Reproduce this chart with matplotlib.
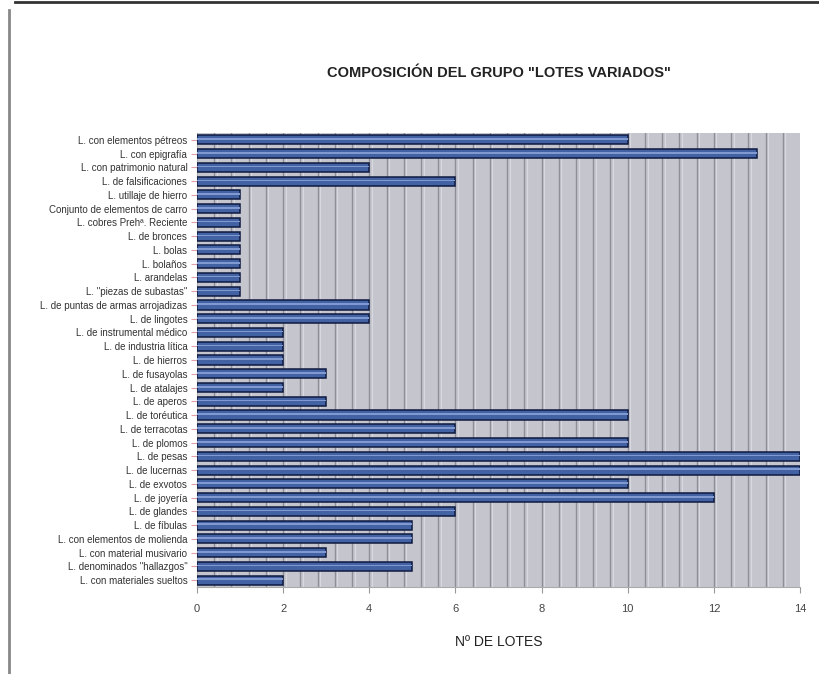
import numpy as np
import matplotlib.pyplot as plt
from matplotlib.lines import Line2D

plt.rcParams['font.family'] = ['Liberation Sans', 'DejaVu Sans']

# lotes del grupo "lotes variados", de arriba abajo
categorias = [
    'L. con elementos pétreos',
    'L. con epigrafía',
    'L. con patrimonio natural',
    'L. de falsificaciones',
    'L. utillaje de hierro',
    'Conjunto de elementos de carro',
    'L. cobres Prehª. Reciente',
    'L. de bronces',
    'L. bolas',
    'L. bolaños',
    'L. arandelas',
    'L. "piezas de subastas"',
    'L. de puntas de armas arrojadizas',
    'L. de lingotes',
    'L. de instrumental médico',
    'L. de industria lítica',
    'L. de hierros',
    'L. de fusayolas',
    'L. de atalajes',
    'L. de aperos',
    'L. de toréutica',
    'L. de terracotas',
    'L. de plomos',
    'L. de pesas',
    'L. de lucernas',
    'L. de exvotos',
    'L. de joyería',
    'L. de glandes',
    'L. de fíbulas',
    'L. con elementos de molienda',
    'L. con material musivario',
    'L. denominados "hallazgos"',
    'L. con materiales sueltos',
]
n_lotes = [10, 13, 4, 6, 1, 1, 1, 1, 1, 1, 1, 1, 4, 4, 2, 2, 2, 3, 2, 3,
           10, 6, 10, 14, 14, 10, 12, 6, 5, 5, 3, 5, 2]
xticks = [0, 2, 4, 6, 8, 10, 12, 14]

fig = plt.figure(figsize=(8.19, 6.74), dpi=100)
fig.patch.set_facecolor('white')
ax = fig.add_axes([197 / 819, 1 - 587 / 674, 603 / 819, 454 / 674])
ax.set_facecolor('#c5c5cd')

y = np.arange(len(categorias))

# rejilla vertical con un reflejo claro al lado de cada línea
for gx in np.arange(0.4, 14, 0.4):
    ax.axvline(gx, color='#8e8e98', lw=1.0, zorder=1)
    ax.axvline(gx + 0.06, color='#d8d8e0', lw=0.8, zorder=1)

# barras con borde oscuro y brillo central
ax.barh(y, n_lotes, height=0.66, color='#4262a4', edgecolor='#0f1a40',
        linewidth=1.1, zorder=3)
ax.barh(y - 0.06, n_lotes, height=0.12, color='#8099d0', linewidth=0, zorder=4)

ax.set_xlim(0, 14)
ax.set_ylim(len(categorias) - 0.5, -0.5)
ax.set_yticks(y)
ax.set_yticklabels(categorias, fontsize=7.0, color='#333333')
ax.set_xticks(xticks)
ax.set_xticklabels([str(v) for v in xticks], fontsize=8, color='#444444')
ax.tick_params(axis='y', length=4, color='#e0a0a8', pad=3)
ax.tick_params(axis='x', length=4, color='#999999', pad=8)
for s in ['top', 'right']:
    ax.spines[s].set_visible(False)
ax.spines['left'].set_color('#aaaaaa')
ax.spines['bottom'].set_color('#aaaaaa')

ax.set_xlabel('Nº DE LOTES', fontsize=10, color='#222222', labelpad=15)
fig.text(499 / 819, 1 - 73 / 674, 'COMPOSICIÓN DEL GRUPO "LOTES VARIADOS"',
         ha='center', va='center', fontsize=10.5, fontweight='bold', color='#222222')

# marco de la página
fig.add_artist(Line2D([15 / 819, 1], [1 - 1.5 / 674] * 2, color='#333333', lw=2))
fig.add_artist(Line2D([9 / 819] * 2, [0, 1 - 10 / 674], color='#888888', lw=2))

fig.savefig('out.png', dpi=100)
